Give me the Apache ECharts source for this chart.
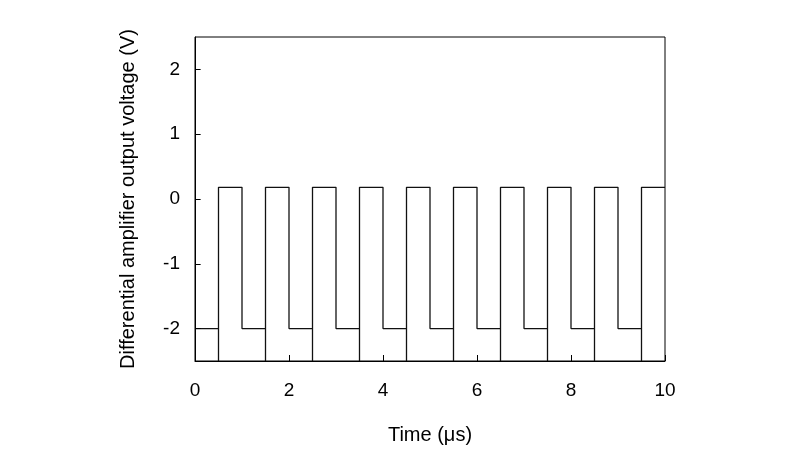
<!DOCTYPE html>
<html><head><meta charset="utf-8">
<script src="https://cdn.jsdelivr.net/npm/echarts@6/dist/echarts.min.js"></script>
<style>html,body{margin:0;background:#fff}#c{width:800px;height:450px}</style>
</head><body><div id="c"></div>
<script>
// edge times (µs)
var riseTimes = [0.5, 1.5, 2.5, 3.5, 4.5, 5.5, 6.5, 7.5, 8.5, 9.5];
var fallTimes = [1.0, 2.0, 3.0, 4.0, 5.0, 6.0, 7.0, 8.0, 9.0];
var highLevel = 0.18, lowLevel = -2.0, dipLevel = -2.5;
var xTicks = [0, 2, 4, 6, 8, 10];
var yTicks = [-2, -1, 0, 1, 2];

var pts = [[0, lowLevel]];
riseTimes.forEach(function (t, i) {
  pts.push([t, lowLevel], [t, dipLevel], [t, highLevel]);
  if (i < fallTimes.length) {
    pts.push([fallTimes[i], highLevel], [fallTimes[i], lowLevel]);
  } else {
    pts.push([10, highLevel]);
  }
});

var font = 'Liberation Sans';
var chart = echarts.init(document.getElementById('c'));
chart.setOption({
  animation: false,
  grid: {left: 195, right: 135, top: 37, bottom: 86, show: true, borderColor: '#000', borderWidth: 1},
  xAxis: {
    type: 'value', min: 0, max: 10, interval: 2,
    name: 'Time (\u03bcs)', nameLocation: 'middle', nameGap: 64,
    nameTextStyle: {fontFamily: font, fontSize: 20, color: '#000'},
    axisLine: {onZero: false, lineStyle: {color: '#000'}},
    axisTick: {inside: true, length: 6, lineStyle: {color: '#000'}},
    axisLabel: {fontFamily: font, fontSize: 19, color: '#000', margin: 20,
      formatter: function (v) { return xTicks.indexOf(v) >= 0 ? v : ''; }},
    splitLine: {show: false}
  },
  yAxis: {
    type: 'value', min: -2.5, max: 2.5, interval: 0.5,
    name: 'Differential amplifier output voltage (V)', nameLocation: 'middle', nameGap: 57,
    nameTextStyle: {fontFamily: font, fontSize: 20, color: '#000'},
    axisLine: {onZero: false, lineStyle: {color: '#000'}},
    axisTick: {show: false},
    axisLabel: {fontFamily: font, fontSize: 19, color: '#000', margin: 15,
      formatter: function (v) { return yTicks.indexOf(v) >= 0 ? String(v) : ''; }},
    splitLine: {show: false}
  },
  series: [{
    type: 'line', data: pts, showSymbol: false,
    lineStyle: {color: '#111', width: 1.3}
  }, {
    type: 'scatter', data: [], markLine: {
      silent: true, symbol: 'none', label: {show: false},
      lineStyle: {color: '#000', width: 1, type: 'solid'},
      data: yTicks.map(function (v) { return [{coord: [0, v]}, {coord: [0.12, v]}]; })
    }
  }]
});
</script></body></html>
